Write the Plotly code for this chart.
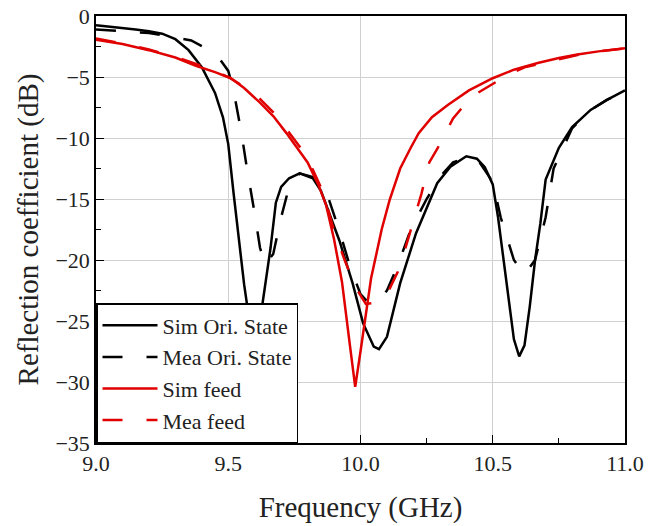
import plotly.graph_objects as go

sim_ori_x = [9.00, 9.05, 9.10, 9.15, 9.20, 9.25, 9.30, 9.35, 9.40, 9.45, 9.48, 9.50, 9.52, 9.54, 9.56, 9.58,
             9.60, 9.62, 9.64, 9.66, 9.68, 9.70, 9.73, 9.77, 9.82, 9.85, 9.92, 9.97, 10.01, 10.05, 10.07,
             10.10, 10.15, 10.21, 10.29, 10.34, 10.40, 10.44, 10.47, 10.50, 10.52, 10.55, 10.58, 10.60,
             10.62, 10.64, 10.66, 10.68, 10.70, 10.75, 10.80, 10.87, 10.93, 11.00]
sim_ori_y = [-0.75, -0.85, -0.95, -1.1, -1.25, -1.45, -1.9, -2.8, -4.2, -6.3, -8.3, -10.5, -14.5, -18.5, -22.0, -25.0,
             -27.3, -25.0, -22.0, -19.0, -15.3, -14.0, -13.3, -12.9, -13.3, -14.3, -18.4, -21.9, -25.2, -27.1, -27.3,
             -26.3, -21.9, -17.8, -13.7, -12.35, -11.5, -11.7, -12.4, -13.8, -16.5, -21.5, -26.5, -27.9,
             -27.0, -23.8, -20.0, -17.0, -13.4, -10.8, -9.1, -7.7, -6.9, -6.1]

mea_ori_x = [9.00, 9.10, 9.20, 9.26, 9.36, 9.42, 9.47, 9.50, 9.52, 9.55, 9.57, 9.60, 9.62, 9.64, 9.67, 9.70,
             9.73, 9.77, 9.82, 9.88, 9.92, 9.96, 10.00, 10.03, 10.07, 10.10, 10.14, 10.19, 10.25, 10.30,
             10.35, 10.40, 10.45, 10.50, 10.53, 10.58, 10.62, 10.66, 10.70, 10.73, 10.80, 10.87, 10.93, 11.00]
mea_ori_y = [-1.1, -1.25, -1.4, -1.6, -2.0, -2.7, -3.6, -4.5, -6.1, -9.6, -12.4, -16.2, -19.0, -20.4, -19.5, -16.5,
             -14.0, -12.9, -13.2, -15.0, -17.6, -20.5, -22.8, -23.5, -23.3, -22.5, -20.5, -17.5, -15.0, -13.2,
             -12.0, -11.6, -12.0, -13.6, -16.5, -20.0, -21.2, -20.0, -16.5, -12.5, -9.2, -7.7, -6.9, -6.1]

sim_feed_x = [9.00, 9.10, 9.20, 9.30, 9.38, 9.45, 9.51, 9.56, 9.62, 9.67, 9.72, 9.76, 9.80, 9.84, 9.87, 9.90,
              9.93, 9.96, 9.98, 10.00, 10.02, 10.04, 10.06, 10.08, 10.11, 10.15, 10.19, 10.22, 10.27, 10.33,
              10.41, 10.50, 10.58, 10.67, 10.75, 10.82, 10.90, 11.00]
sim_feed_y = [-1.95, -2.3, -2.8, -3.4, -4.1, -4.6, -5.1, -5.9, -7.1, -8.2, -9.6, -10.8, -12.0, -13.8, -15.5, -18.3,
              -21.8, -27.0, -30.4, -27.5, -24.3, -21.5, -19.5, -17.5, -15.1, -12.5, -10.8, -9.6, -8.3, -7.3,
              -6.1, -5.1, -4.4, -3.85, -3.45, -3.15, -2.9, -2.65]

mea_feed_x = [9.00, 9.10, 9.20, 9.30, 9.40, 9.50, 9.56, 9.62, 9.68, 9.73, 9.78, 9.82, 9.86, 9.90, 9.94, 9.98,
              10.02, 10.06, 10.10, 10.14, 10.17, 10.20, 10.23, 10.26, 10.29, 10.35, 10.42, 10.49, 10.56,
              10.62, 10.68, 10.75, 10.82, 10.90, 11.00]
mea_feed_y = [-1.85, -2.25, -2.75, -3.35, -4.1, -5.0, -5.8, -6.8, -8.1, -9.6, -11.0, -12.6, -14.5, -17.6, -20.0, -22.2,
              -23.6, -23.5, -22.8, -21.0, -19.0, -16.8, -14.6, -12.0, -10.9, -8.4, -6.6, -5.7, -4.8,
              -4.2, -3.9, -3.5, -3.2, -2.9, -2.65]

x_ticks = [9.0, 9.5, 10.0, 10.5, 11.0]
y_ticks = [-35, -30, -25, -20, -15, -10, -5, 0]

RED = "#e00000"
DASH = "20px,24px"
FONT = "Liberation Serif"

fig = go.Figure()
fig.add_trace(go.Scatter(x=sim_ori_x, y=sim_ori_y, mode="lines", name="Sim Ori. State",
                         line=dict(color="black", width=2.5)))
fig.add_trace(go.Scatter(x=mea_ori_x, y=mea_ori_y, mode="lines", name="Mea Ori. State",
                         line=dict(color="black", width=2.5, dash=DASH)))
fig.add_trace(go.Scatter(x=sim_feed_x, y=sim_feed_y, mode="lines", name="Sim feed",
                         line=dict(color=RED, width=2.5)))
fig.add_trace(go.Scatter(x=mea_feed_x, y=mea_feed_y, mode="lines", name="Mea feed",
                         line=dict(color=RED, width=2.5, dash=DASH)))

axis_common = dict(
    showline=True, linecolor="black", linewidth=1.5, mirror=True,
    ticks="inside", ticklen=8, tickwidth=1.2, tickcolor="black",
    showgrid=True, gridcolor="#d0d0d0", gridwidth=1,
    zeroline=False, automargin=False,
    tickfont=dict(family=FONT, size=22, color="#222"),
)

fig.update_xaxes(range=[9.0, 11.0], tickvals=x_ticks, tickformat=".1f",
                 title=dict(text="Frequency (GHz)", font=dict(family=FONT, size=29, color="#222"), standoff=22),
                 minor=dict(ticks="inside", ticklen=5, tickwidth=1.2, tickcolor="black", dtick=0.25, showgrid=False),
                 **axis_common)
fig.update_yaxes(range=[-35, 0], tickvals=y_ticks,
                 title=dict(text="Reflection coefficient (dB)", font=dict(family=FONT, size=29, color="#222"), standoff=8),
                 minor=dict(ticks="inside", ticklen=5, tickwidth=1.2, tickcolor="black", dtick=2.5, showgrid=False),
                 **axis_common)

fig.update_layout(
    width=660, height=526,
    margin=dict(l=96, r=35, t=16, b=83),
    paper_bgcolor="white", plot_bgcolor="white",
    showlegend=True,
    legend=dict(x=0, y=0, xanchor="left", yanchor="bottom",
                bgcolor="white", bordercolor="black", borderwidth=1.5,
                font=dict(family=FONT, size=22, color="#222"),
                itemwidth=55, tracegroupgap=0),
)

fig.write_html("out.html")
